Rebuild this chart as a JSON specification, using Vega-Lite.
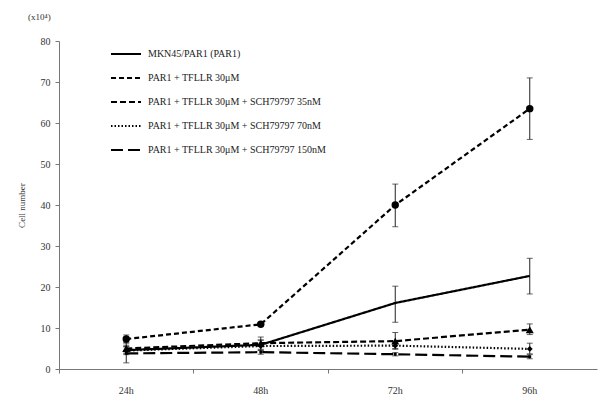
{
  "$schema": "https://vega.github.io/schema/vega-lite/v6.json",
  "width": 538,
  "height": 328,
  "autosize": {"type": "none"},
  "padding": {"left": 59, "top": 41, "right": 3, "bottom": 38},
  "background": "white",
  "title": {"text": "(x10⁴)", "anchor": "start", "frame": "group", "dx": -31, "dy": -6, "offset": 8, "font": "Liberation Serif", "fontSize": 9, "fontWeight": "normal", "color": "#333"},
  "config": {
    "view": {"stroke": null},
    "font": "Liberation Serif",
    "axis": {"grid": false, "domainColor": "#777", "tickColor": "#777", "labelFont": "Liberation Serif", "titleFont": "Liberation Serif", "labelColor": "#333", "titleColor": "#333", "labelFontSize": 10, "titleFontWeight": "normal"}
  },
  "data": {"values": [
    {"s": "MKN45/PAR1 (PAR1)", "t": "24h", "v": 4.6, "lo": 3.8, "hi": 5.4},
    {"s": "MKN45/PAR1 (PAR1)", "t": "48h", "v": 5.9, "lo": 4.8, "hi": 7.0},
    {"s": "MKN45/PAR1 (PAR1)", "t": "72h", "v": 16.1, "lo": 11.4, "hi": 20.2},
    {"s": "MKN45/PAR1 (PAR1)", "t": "96h", "v": 22.7, "lo": 18.3, "hi": 27.0},
    {"s": "PAR1 + TFLLR 30μM", "t": "24h", "v": 7.3, "lo": 6.3, "hi": 8.3},
    {"s": "PAR1 + TFLLR 30μM", "t": "48h", "v": 10.9, "lo": 10.4, "hi": 11.4},
    {"s": "PAR1 + TFLLR 30μM", "t": "72h", "v": 40.0, "lo": 34.7, "hi": 45.1},
    {"s": "PAR1 + TFLLR 30μM", "t": "96h", "v": 63.5, "lo": 56.0, "hi": 71.0},
    {"s": "PAR1 + TFLLR 30μM + SCH79797 35nM", "t": "24h", "v": 5.0, "lo": 4.2, "hi": 5.8},
    {"s": "PAR1 + TFLLR 30μM + SCH79797 35nM", "t": "48h", "v": 6.3, "lo": 5.5, "hi": 7.1},
    {"s": "PAR1 + TFLLR 30μM + SCH79797 35nM", "t": "72h", "v": 6.8, "lo": 4.8, "hi": 8.9},
    {"s": "PAR1 + TFLLR 30μM + SCH79797 35nM", "t": "96h", "v": 9.6, "lo": 8.4, "hi": 11.0},
    {"s": "PAR1 + TFLLR 30μM + SCH79797 70nM", "t": "24h", "v": 4.5, "lo": 3.5, "hi": 5.5},
    {"s": "PAR1 + TFLLR 30μM + SCH79797 70nM", "t": "48h", "v": 5.6, "lo": 4.5, "hi": 7.8},
    {"s": "PAR1 + TFLLR 30μM + SCH79797 70nM", "t": "72h", "v": 5.7, "lo": 5.0, "hi": 6.4},
    {"s": "PAR1 + TFLLR 30μM + SCH79797 70nM", "t": "96h", "v": 4.9, "lo": 3.7, "hi": 6.3},
    {"s": "PAR1 + TFLLR 30μM + SCH79797 150nM", "t": "24h", "v": 3.8, "lo": 1.5, "hi": 6.5},
    {"s": "PAR1 + TFLLR 30μM + SCH79797 150nM", "t": "48h", "v": 4.1, "lo": 3.6, "hi": 4.6},
    {"s": "PAR1 + TFLLR 30μM + SCH79797 150nM", "t": "72h", "v": 3.6, "lo": 3.2, "hi": 4.0},
    {"s": "PAR1 + TFLLR 30μM + SCH79797 150nM", "t": "96h", "v": 3.0, "lo": 2.5, "hi": 3.5}
  ]},
  "encoding": {
    "x": {"field": "t", "type": "ordinal", "scale": {"type": "band", "paddingInner": 0, "paddingOuter": 0},
      "axis": {"title": null, "labelAngle": 0, "bandPosition": 0, "tickSize": 4, "labelPadding": 12, "labelFontSize": 10}}
  },
  "layer": [
    {
      "mark": {"type": "errorbar", "ticks": {"size": 6, "color": "#222"}, "rule": {"color": "#222"}, "thickness": 1},
      "encoding": {
        "y": {"field": "lo", "type": "quantitative", "title": "Cell number"},
        "y2": {"field": "hi"},
        "detail": {"field": "s"}
      }
    },
    {
      "mark": {"type": "line", "color": "black", "strokeWidth": 2.2},
      "encoding": {
        "y": {"field": "v", "type": "quantitative", "scale": {"domain": [0, 80]},
          "axis": {"title": "Cell number", "titleFontSize": 9, "titlePadding": 14, "values": [0,10,20,30,40,50,60,70,80], "tickSize": 4, "labelPadding": 5}},
        "strokeDash": {"field": "s", "type": "nominal",
          "scale": {"domain": ["MKN45/PAR1 (PAR1)", "PAR1 + TFLLR 30μM", "PAR1 + TFLLR 30μM + SCH79797 35nM", "PAR1 + TFLLR 30μM + SCH79797 70nM", "PAR1 + TFLLR 30μM + SCH79797 150nM"],
            "range": [[1, 0], [5, 3], [6, 3], [1.5, 2], [12, 5]]},
          "legend": {"title": null, "orient": "none", "legendX": 51, "legendY": -3, "symbolType": "stroke", "symbolSize": 900, "symbolStrokeWidth": 2, "symbolStrokeColor": "black", "labelFont": "Liberation Serif", "labelFontSize": 10, "labelColor": "#222", "rowPadding": 3, "labelOffset": 6, "labelLimit": 300}}
      }
    },
    {
      "transform": [{"filter": "datum.s === 'PAR1 + TFLLR 30μM'"}],
      "mark": {"type": "point", "filled": true, "color": "black", "opacity": 1, "shape": "circle", "size": 55},
      "encoding": {"y": {"field": "v", "type": "quantitative"}}
    },
    {
      "transform": [{"filter": "datum.s === 'PAR1 + TFLLR 30μM + SCH79797 35nM'"}],
      "mark": {"type": "point", "filled": true, "color": "black", "opacity": 1, "shape": "triangle-up", "size": 65},
      "encoding": {"y": {"field": "v", "type": "quantitative"}}
    },
    {
      "transform": [{"filter": "datum.s === 'PAR1 + TFLLR 30μM + SCH79797 70nM'"}],
      "mark": {"type": "point", "filled": true, "color": "black", "opacity": 1, "shape": "diamond", "size": 35},
      "encoding": {"y": {"field": "v", "type": "quantitative"}}
    },
    {
      "transform": [{"filter": "datum.s === 'PAR1 + TFLLR 30μM + SCH79797 150nM'"}],
      "mark": {"type": "point", "filled": true, "color": "black", "opacity": 1, "shape": "square", "size": 8},
      "encoding": {"y": {"field": "v", "type": "quantitative"}}
    }
  ]
}
